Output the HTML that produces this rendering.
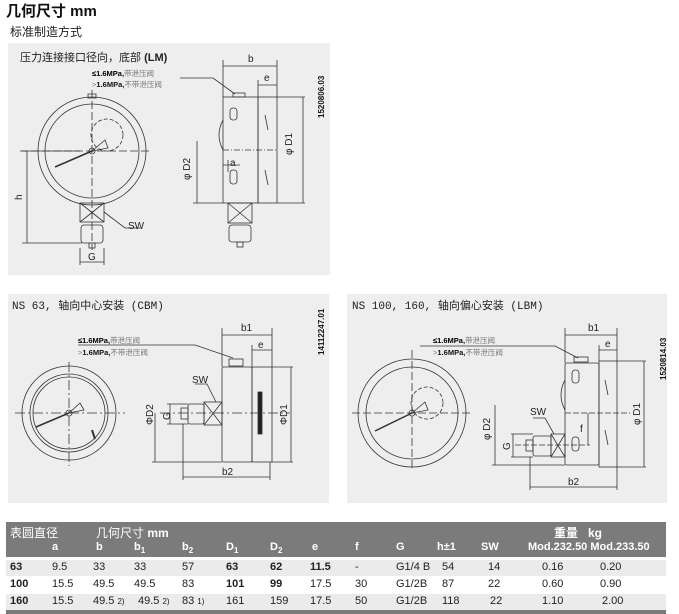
<!DOCTYPE html>
<html><head><meta charset="utf-8"><style>
body{margin:0;width:679px;height:614px;background:#fff;overflow:hidden;position:relative;font-family:"Liberation Sans","Noto Sans CJK SC",sans-serif}
.a{position:absolute;white-space:nowrap}
.panel{position:absolute;background:#eeeeee}
.hd{position:absolute;left:6px;top:522px;width:660px;height:35px;background:#7b7b7b}
.t{position:absolute;font-size:11px;color:#222}
.h{position:absolute;font-size:11px;color:#fff;font-weight:bold}
</style></head><body>
<div class="a" style="left:6px;top:0px;font-size:15px;font-weight:bold;color:#111">几何尺寸 mm</div>
<div class="a" style="left:10px;top:23px;font-size:12px;color:#222">标准制造方式</div>
<div class="panel" style="left:8px;top:43px;width:322px;height:232px"></div>
<div class="panel" style="left:8px;top:294px;width:321px;height:209px"></div>
<div class="panel" style="left:347px;top:294px;width:320px;height:209px"></div>
<div class="a" style="left:20px;top:49px;font-size:11px;color:#222">压力连接接口径向，底部 <b>(LM)</b></div>
<div class="a" style="left:12px;top:297px;font-size:11px;color:#222;font-family:'Liberation Mono','Noto Sans CJK SC',monospace">NS 63, 轴向中心安装 (CBM)</div>
<div class="a" style="left:352px;top:297px;font-size:11px;color:#222;font-family:'Liberation Mono','Noto Sans CJK SC',monospace">NS 100, 160, 轴向偏心安装 (LBM)</div>

<svg width="679" height="614" style="position:absolute;left:0;top:0" font-family="Liberation Sans,Noto Sans CJK SC,sans-serif">
<g fill="none" stroke="#333" stroke-width="0.8">
<circle cx="92" cy="151" r="54"/><circle cx="92" cy="151" r="47"/>
<circle cx="107" cy="135" r="16" stroke-dasharray="4 2"/>
<line x1="20" y1="151" x2="150" y2="151" stroke-dasharray="8 3"/>
<line x1="92" y1="90" x2="92" y2="250" stroke-dasharray="8 3"/>
<line x1="92" y1="151" x2="55" y2="167" stroke-width="1.5"/>
<circle cx="92" cy="151" r="3"/>
<path d="M92 151 L105 140 L108 148 Z"/>
<rect x="80" y="203" width="24" height="19"/><path d="M80 203 L104 222 M104 203 L80 222"/>
<rect x="81" y="225" width="22" height="18" rx="3"/><rect x="89" y="243" width="6" height="5"/>
<path d="M27 151 V243 M22 151 H80 M22 243 H82"/>
<path d="M80 248 V265 M104 248 V265 M80 262 H104"/>
<path d="M104 212 L125 228 H140"/>
<path d="M88 98 h8 v-4 h-8z"/>
<rect x="223" y="97" width="35" height="106"/><rect x="258" y="97" width="19" height="106"/>
<path d="M223 150 q-8 -15 0 -30" /><rect x="230" y="108" width="7" height="12" rx="3"/><rect x="230" y="170" width="7" height="14" rx="3"/>
<path d="M265 115 l3 15 M265 170 l3 15"/>
<path d="M277 97 H305 M277 203 H305 M303 97 V203"/>
<path d="M223 60 V97 M277 60 V97 M223 66 H277 M258 80 V97 M258 85 H277"/>
<path d="M180 78 H213 L235 94"/><rect x="233" y="93" width="12" height="4"/>
<path d="M223 150 H277" stroke-dasharray="6 2 1 2"/>
<path d="M197 141 V203 M193 203 H223"/>
<path d="M223 165 H240 M228 160 V172"/>
<rect x="228" y="203" width="24" height="20"/><path d="M228 203 L252 223 M252 203 L228 223"/>
<rect x="229" y="225" width="22" height="17" rx="3"/><rect x="237" y="242" width="6" height="5"/>
<circle cx="69" cy="413" r="47"/><circle cx="69" cy="413" r="39"/><circle cx="69" cy="413" r="36"/>
<line x1="15" y1="413" x2="125" y2="413" stroke-dasharray="10 3 2 3"/>
<line x1="69" y1="362" x2="69" y2="466" stroke-dasharray="10 3 2 3"/>
<line x1="69" y1="413" x2="36" y2="427" stroke-width="1.5"/><circle cx="69" cy="413" r="3"/>
<path d="M69 413 L80 403 L84 410 Z"/><path d="M92 430 l3 9" stroke-width="2"/>
<rect x="222" y="367" width="30" height="95" rx="2"/><rect x="252" y="367" width="20" height="95"/>
<rect x="258" y="392" width="4" height="42" fill="#222"/>
<rect x="204" y="402" width="18" height="23"/><path d="M204 402 L222 425 M222 402 L204 425"/>
<rect x="188" y="404" width="16" height="20" rx="2"/><rect x="181" y="408" width="7" height="11"/>
<line x1="160" y1="413" x2="290" y2="413" stroke-dasharray="10 3 2 3"/>
<path d="M167 404 H188 M167 424 H188 M170 404 V424"/>
<path d="M155 413 V462 M152 462 H222"/>
<path d="M272 367 H293 M272 462 H293 M291 367 V462"/>
<path d="M222 328 V367 M272 328 V367 M222 335 H272 M252 345 V367 M252 350 H272"/>
<path d="M183 424 V480 M270 462 V480 M183 477 H270"/>
<path d="M78 345 H195 L233 358"/><rect x="229" y="359" width="14" height="7"/>
<path d="M195 384 H207 L216 402"/>
<circle cx="412" cy="413" r="54"/><circle cx="412" cy="413" r="46"/>
<circle cx="427" cy="403" r="16" stroke-dasharray="4 2"/>
<line x1="352" y1="413" x2="470" y2="413" stroke-dasharray="8 3"/>
<line x1="412" y1="350" x2="412" y2="470" stroke-dasharray="8 3"/>
<line x1="412" y1="413" x2="375" y2="431" stroke-width="1.5"/><circle cx="412" cy="413" r="3"/>
<path d="M412 413 L425 402 L428 410 Z"/>
<rect x="565" y="363" width="34" height="102" rx="2"/><rect x="599" y="361" width="18" height="106"/>
<rect x="572" y="370" width="7" height="13" rx="3"/><rect x="572" y="437" width="7" height="14" rx="3"/>
<path d="M565 410 q-8 -15 0 -30"/><path d="M605 380 l3 15 M605 430 l3 15"/>
<rect x="551" y="434" width="14" height="23"/><path d="M551 434 L565 457 M565 434 L551 457"/>
<rect x="533" y="436" width="18" height="20" rx="2"/><rect x="526" y="440" width="7" height="11"/>
<line x1="515" y1="445" x2="590" y2="445" stroke-dasharray="6 2"/>
<line x1="565" y1="413" x2="630" y2="413" stroke-dasharray="6 2"/>
<path d="M511 434 H533 M511 457 H533 M513 434 V457"/>
<path d="M495 405 V465 M492 465 H565"/>
<path d="M617 361 H646 M617 467 H646 M644 361 V467"/>
<path d="M588 413 V445"/>
<path d="M565 328 V363 M617 328 V361 M565 335 H617 M599 345 V361 M599 350 H617"/>
<path d="M530 457 V490 M617 467 V490 M530 487 H617"/>
<path d="M420 346 H555 L578 358"/><rect x="574" y="357" width="14" height="5"/>
<path d="M533 418 H545 L554 434"/>
</g>
<g font-size="10" fill="#222">
<text x="248" y="62">b</text><text x="264" y="81">e</text><text x="230" y="166">a</text>
<text x="292" y="155" transform="rotate(-90 292 155)">φ D1</text>
<text x="190" y="180" transform="rotate(-90 190 180)">φ D2</text>
<text x="22" y="200" transform="rotate(-90 22 200)">h</text>
<text x="88" y="260">G</text><text x="128" y="229">SW</text>
<text x="241" y="331">b1</text><text x="258" y="348">e</text><text x="222" y="475">b2</text>
<text x="287" y="425" transform="rotate(-90 287 425)">ΦD1</text>
<text x="153" y="425" transform="rotate(-90 153 425)">ΦD2</text>
<text x="170" y="420" transform="rotate(-90 170 420)">G</text>
<text x="192" y="383">SW</text>
<text x="588" y="331">b1</text><text x="605" y="347">e</text><text x="568" y="485">b2</text>
<text x="640" y="425" transform="rotate(-90 640 425)">φ D1</text>
<text x="490" y="440" transform="rotate(-90 490 440)">φ D2</text>
<text x="510" y="450" transform="rotate(-90 510 450)">G</text>
<text x="530" y="415">SW</text><text x="580" y="432">f</text>
</g>
<g font-size="8" font-weight="bold" fill="#111">
<text x="324" y="118" transform="rotate(-90 324 118)">1520806.03</text>
<text x="324" y="355" transform="rotate(-90 324 355)">14112247.01</text>
<text x="666" y="380" transform="rotate(-90 666 380)">1520814.03</text>
</g>
<g font-size="7.5">
<text x="92" y="76"><tspan font-weight="bold">≤1.6MPa,</tspan><tspan fill="#777">带泄压阀</tspan></text>
<text x="92" y="87" fill="#777">&gt;<tspan font-weight="bold" fill="#111">1.6MPa,</tspan>不带泄压阀</text>
<text x="78" y="343"><tspan font-weight="bold">≤1.6MPa,</tspan><tspan fill="#777">带泄压阀</tspan></text>
<text x="78" y="355" fill="#777">&gt;<tspan font-weight="bold" fill="#111">1.6MPa,</tspan>不带泄压阀</text>
<text x="433" y="343"><tspan font-weight="bold">≤1.6MPa,</tspan><tspan fill="#777">带泄压阀</tspan></text>
<text x="433" y="355" fill="#777">&gt;<tspan font-weight="bold" fill="#111">1.6MPa,</tspan>不带泄压阀</text>
</g>
<rect x="6" y="560" width="660" height="16" fill="#ebebeb"/>
<rect x="6" y="594" width="660" height="16" fill="#ebebeb"/>
<rect x="6" y="610" width="660" height="4" fill="#7b7b7b"/>
</svg>

<div class="hd"></div>
<div class="h" style="left:10px;top:524px;font-weight:normal;font-size:12px">表圆直径</div>
<div class="h" style="left:96px;top:524px;font-weight:normal;font-size:12px">几何尺寸 <b>mm</b></div>
<div class="h" style="left:554px;top:524px;font-size:12px">重量&nbsp;&nbsp;&nbsp;kg</div>
<div class="h" style="left:52px;top:541px">a</div><div class="h" style="left:96px;top:541px">b</div>
<div class="h" style="left:134px;top:541px">b<sub style="font-size:8px">1</sub></div>
<div class="h" style="left:182px;top:541px">b<sub style="font-size:8px">2</sub></div>
<div class="h" style="left:226px;top:541px">D<sub style="font-size:8px">1</sub></div>
<div class="h" style="left:270px;top:541px">D<sub style="font-size:8px">2</sub></div>
<div class="h" style="left:312px;top:541px">e</div><div class="h" style="left:355px;top:541px">f</div>
<div class="h" style="left:396px;top:541px">G</div><div class="h" style="left:437px;top:541px">h±1</div>
<div class="h" style="left:481px;top:541px">SW</div>
<div class="h" style="left:528px;top:541px">Mod.232.50 Mod.233.50</div>

<div class="t" style="left:10px;top:561px;font-weight:bold">63</div><div class="t" style="left:52px;top:561px">9.5</div><div class="t" style="left:93px;top:561px">33</div><div class="t" style="left:134px;top:561px">33</div><div class="t" style="left:182px;top:561px">57</div><div class="t" style="left:226px;top:561px;font-weight:bold">63</div><div class="t" style="left:270px;top:561px;font-weight:bold">62</div><div class="t" style="left:310px;top:561px;font-weight:bold">11.5</div><div class="t" style="left:355px;top:561px">-</div><div class="t" style="left:396px;top:561px">G1/4 B</div><div class="t" style="left:442px;top:561px">54</div><div class="t" style="left:488px;top:561px">14</div><div class="t" style="left:542px;top:561px">0.16</div><div class="t" style="left:600px;top:561px">0.20</div>
<div class="t" style="left:10px;top:578px;font-weight:bold">100</div><div class="t" style="left:52px;top:578px">15.5</div><div class="t" style="left:93px;top:578px">49.5</div><div class="t" style="left:134px;top:578px">49.5</div><div class="t" style="left:182px;top:578px">83</div><div class="t" style="left:226px;top:578px;font-weight:bold">101</div><div class="t" style="left:270px;top:578px;font-weight:bold">99</div><div class="t" style="left:310px;top:578px">17.5</div><div class="t" style="left:355px;top:578px">30</div><div class="t" style="left:396px;top:578px">G1/2B</div><div class="t" style="left:442px;top:578px">87</div><div class="t" style="left:488px;top:578px">22</div><div class="t" style="left:542px;top:578px">0.60</div><div class="t" style="left:600px;top:578px">0.90</div>
<div class="t" style="left:10px;top:595px;font-weight:bold">160</div><div class="t" style="left:52px;top:595px">15.5</div><div class="t" style="left:93px;top:595px">49.5 <span style="font-size:8px">2)</span></div><div class="t" style="left:138px;top:595px">49.5 <span style="font-size:8px">2)</span></div><div class="t" style="left:182px;top:595px">83 <span style="font-size:8px">1)</span></div><div class="t" style="left:226px;top:595px">161</div><div class="t" style="left:270px;top:595px">159</div><div class="t" style="left:310px;top:595px">17.5</div><div class="t" style="left:355px;top:595px">50</div><div class="t" style="left:396px;top:595px">G1/2B</div><div class="t" style="left:442px;top:595px">118</div><div class="t" style="left:490px;top:595px">22</div><div class="t" style="left:542px;top:595px">1.10</div><div class="t" style="left:602px;top:595px">2.00</div>
</body></html>
